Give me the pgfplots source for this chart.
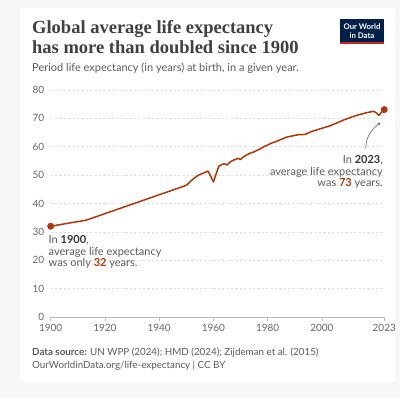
\documentclass[border=0pt]{standalone}
\usepackage{fontspec}
\setmainfont{Lato}
\newfontfamily\titlefont{Liberation Serif}
\usepackage{pgfplots}
\pgfplotsset{compat=1.18}
\usetikzlibrary{arrows.meta}
\definecolor{owidred}{HTML}{B13507}
\definecolor{owidblue}{HTML}{002147}
\definecolor{owidstrip}{HTML}{CE261E}
\definecolor{bg}{HTML}{F7F7F7}
\definecolor{titlec}{HTML}{404040}
\definecolor{subc}{HTML}{5B5B5B}
\definecolor{tickc}{HTML}{666666}
\definecolor{gridc}{HTML}{DDDDDD}
\definecolor{axisc}{HTML}{BBBBBB}
\definecolor{darkc}{HTML}{333333}
\pgfplotstableread{
year le
1900 32.0
1913 34.1
1950 46.4
1951 47.3
1952 48.2
1953 49.0
1954 49.7
1955 50.2
1956 50.6
1957 51.0
1958 51.4
1959 49.6
1960 47.6
1961 50.5
1962 53.1
1963 53.7
1964 54.0
1965 53.6
1966 54.5
1967 55.1
1968 55.5
1969 55.9
1970 55.5
1971 56.4
1972 57.0
1973 57.5
1974 57.9
1975 58.2
1976 58.7
1977 59.1
1978 59.7
1979 60.2
1980 60.6
1981 61.1
1982 61.5
1983 61.8
1984 62.2
1985 62.6
1986 63.0
1987 63.4
1988 63.6
1989 63.8
1990 64.0
1991 64.2
1992 64.3
1993 64.3
1994 64.4
1995 64.9
1996 65.3
1997 65.6
1998 65.9
1999 66.2
2000 66.5
2001 66.8
2002 67.1
2003 67.4
2004 67.8
2005 68.2
2006 68.6
2007 69.0
2008 69.4
2009 69.8
2010 70.1
2011 70.5
2012 70.8
2013 71.1
2014 71.4
2015 71.6
2016 71.9
2017 72.1
2018 72.3
2019 72.5
2020 72.0
2021 71.0
2022 72.2
2023 73.1
}\lifedata
\begin{document}
\begin{tikzpicture}[x=1pt,y=1pt]
\fill[bg] (0,0) rectangle (400,398);
\useasboundingbox (0,0) rectangle (400,398);
\fill[white] (20,16) rectangle (395,390);
% title
\node[anchor=base west, inner sep=0pt, text=titlec, font=\titlefont\bfseries\fontsize{18.5}{20}\selectfont] at (32,364) {Global average life expectancy};
\node[anchor=base west, inner sep=0pt, text=titlec, font=\titlefont\bfseries\fontsize{18.5}{20}\selectfont] at (32,344.7) {has more than doubled since 1900};
\node[anchor=base west, inner sep=0pt, text=subc, font=\fontsize{11}{13}\selectfont] at (32,326.3) {Period life expectancy (in years) at birth, in a given year.};
% logo
\fill[owidblue] (340,354) rectangle (384,379);
\fill[owidstrip] (340,354) rectangle (384,355.8);
\node[text=white, inner sep=0pt, font=\fontsize{7.8}{9}\selectfont\bfseries] at (362,371.5) {Our World};
\node[text=white, inner sep=0pt, font=\fontsize{7.8}{9}\selectfont\bfseries] at (362,362.8) {in Data};
\begin{axis}[
  at={(50.7pt,81pt)}, anchor=south west,
  scale only axis, width=333.6pt, height=227pt,
  xmin=1900, xmax=2023, ymin=0, ymax=80,
  axis x line*=bottom, axis y line*=left,
  x axis line style={draw=axisc, line width=0.8pt, -},
  y axis line style={draw=none},
  xtick={1900,1920,1940,1960,1980,2000,2023},
  xticklabels={1900,1920,1940,1960,1980,2000,2023},
  ytick={0,10,20,30,40,50,60,70,80},
  xtick align=outside, major tick length=4pt,
  x tick style={draw=axisc, line width=0.8pt},
  y tick style={draw=none},
  ymajorgrids,
  major grid style={draw=gridc, line width=0.7pt, dash pattern=on 2.2pt off 2.2pt},
  tick label style={text=tickc, font=\fontsize{10}{12}\selectfont},
  y tick label style={xshift=-3pt},
  /pgf/number format/assume math mode=true,
  /pgf/number format/1000 sep={},
  clip=false,
]
\addplot[owidred, line width=1.5pt, line join=round] table[x=year, y=le] {\lifedata};
\addplot[only marks, mark=*, mark size=3.2pt, owidred] coordinates {(1900,32.0) (2023,73.1)};
\end{axis}
% annotations 1900
\node[anchor=base west, inner sep=0pt, text=subc, font=\fontsize{11}{13}\selectfont] at (48.5,154) {In \textcolor{darkc}{\bfseries 1900},};
\node[anchor=base west, inner sep=0pt, text=subc, font=\fontsize{11}{13}\selectfont] at (48.5,142) {average life expectancy};
\node[anchor=base west, inner sep=0pt, text=subc, font=\fontsize{11}{13}\selectfont] at (48.5,131) {was only \textcolor{owidred}{\bfseries 32} years.};
% annotations 2023
\node[anchor=base east, inner sep=0pt, text=subc, font=\fontsize{11}{13}\selectfont] at (383,234.7) {In \textcolor{darkc}{\bfseries 2023},};
\node[anchor=base east, inner sep=0pt, text=subc, font=\fontsize{11}{13}\selectfont] at (383,222) {average life expectancy};
\node[anchor=base east, inner sep=0pt, text=subc, font=\fontsize{11}{13}\selectfont] at (383,211.3) {was \textcolor{owidred}{\bfseries 73} years.};
\draw[subc, line width=0.6pt, -{Stealth[length=3pt, width=3pt, open]}] (365.7,249.5) .. controls (366,264) and (374,270) .. (380.5,275.5);
% footer
\node[anchor=base west, inner sep=0pt, text=subc, font=\fontsize{9.8}{12}\selectfont] at (32,42.5) {\textbf{Data source:} UN WPP (2024); HMD (2024); Zijdeman et al. (2015)};
\node[anchor=base west, inner sep=0pt, text=subc, font=\fontsize{9.8}{12}\selectfont] at (32,29) {OurWorldinData.org/life-expectancy | CC BY};
\end{tikzpicture}
\end{document}
